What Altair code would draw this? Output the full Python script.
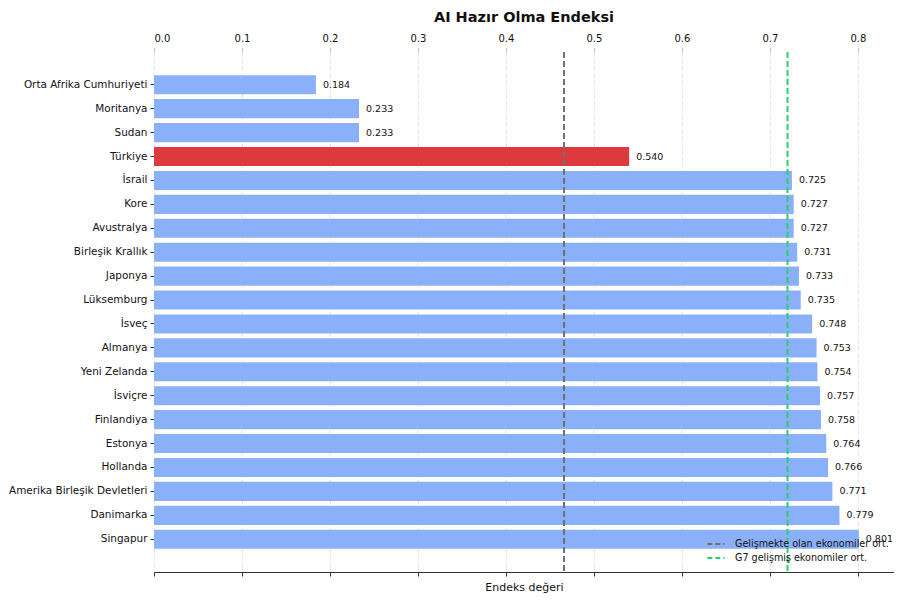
import altair as alt
import pandas as pd

countries = ["Orta Afrika Cumhuriyeti", "Moritanya", "Sudan", "Türkiye", "İsrail", "Kore",
             "Avustralya", "Birleşik Krallık", "Japonya", "Lüksemburg", "İsveç", "Almanya",
             "Yeni Zelanda", "İsviçre", "Finlandiya", "Estonya", "Hollanda",
             "Amerika Birleşik Devletleri", "Danimarka", "Singapur"]
values = [0.184, 0.233, 0.233, 0.540, 0.725, 0.727, 0.727, 0.731, 0.733, 0.735, 0.748,
          0.753, 0.754, 0.757, 0.758, 0.764, 0.766, 0.771, 0.779, 0.801]
highlight = ["Türkiye"]

ref_names = ["Gelişmekte olan ekonomiler ort.", "G7 gelişmiş ekonomiler ort."]
ref_values = [0.466, 0.720]
ref_colors = ["#707070", "#2ecc71"]

tick_values = [0, .1, .2, .3, .4, .5, .6, .7, .8]

df = pd.DataFrame({"country": countries, "value": values})
df["hl"] = df["country"].isin(highlight)
refs = pd.DataFrame({"name": ref_names, "v": ref_values})

xscale = alt.Scale(domain=[0, 0.841], nice=False, zero=False)
yenc = alt.Y("country:N", sort=countries, title=None,
             scale=alt.Scale(paddingInner=0.2, paddingOuter=0.97),
             axis=alt.Axis(domain=False, tickSize=4, tickColor="#333", labelFontSize=10.45,
                           labelColor="#111", labelPadding=3, labelFont="DejaVu Sans"))

bars = alt.Chart(df).mark_bar().encode(
    x=alt.X("value:Q", scale=xscale, title=None,
            axis=alt.Axis(orient="top", values=tick_values, format=".1f",
                          domain=False, tickSize=4, tickColor="#bbb", labelFontSize=10,
                          labelColor="#111", labelPadding=5, grid=True, gridDash=[4, 3],
                          gridColor="#ddd", gridWidth=0.8, labelFont="DejaVu Sans")),
    y=yenc,
    color=alt.condition("datum.hl", alt.value("#dc3a3d"), alt.value("#8ab0fa")),
)

labels = alt.Chart(df).mark_text(align="left", baseline="middle", dx=7, fontSize=9.5,
                                 font="DejaVu Sans", color="#111").encode(
    x=alt.X("value:Q", scale=xscale, axis=None),
    y=alt.Y("country:N", sort=countries),
    text=alt.Text("value:Q", format=".3f"),
)

rules = alt.Chart(refs).mark_rule(strokeDash=[6, 3], strokeWidth=2).encode(
    x=alt.X("v:Q", scale=xscale, title="Endeks değeri",
            axis=alt.Axis(orient="bottom", values=tick_values,
                          labels=False, grid=False, domain=True, domainColor="#333",
                          tickColor="#333", tickSize=4, titleFontSize=11, titleFontWeight="normal",
                          titleColor="#111", titlePadding=5, titleFont="DejaVu Sans")),
    color=alt.Color("name:N", scale=alt.Scale(domain=ref_names, range=ref_colors), title=None,
                    legend=alt.Legend(orient="none", legendX=552, legendY=486, symbolType="stroke",
                                      symbolDash=[5, 3], symbolStrokeWidth=2, symbolSize=300,
                                      clipHeight=12, labelOffset=9, labelFontSize=9.6,
                                      labelFont="DejaVu Sans", labelColor="#111", rowPadding=2)),
)

chart = alt.layer(bars, labels, rules).resolve_axis(x="independent").properties(
    width=740, height=520,
    title=alt.TitleParams("AI Hazır Olma Endeksi", fontSize=14.5, fontWeight="bold",
                          font="DejaVu Sans", color="#111", offset=8),
    padding={"left": 0, "top": 1, "right": 0, "bottom": 0},
).configure_view(stroke=None)

chart.save("out.html", embed_options={"renderer": "svg", "actions": False})
